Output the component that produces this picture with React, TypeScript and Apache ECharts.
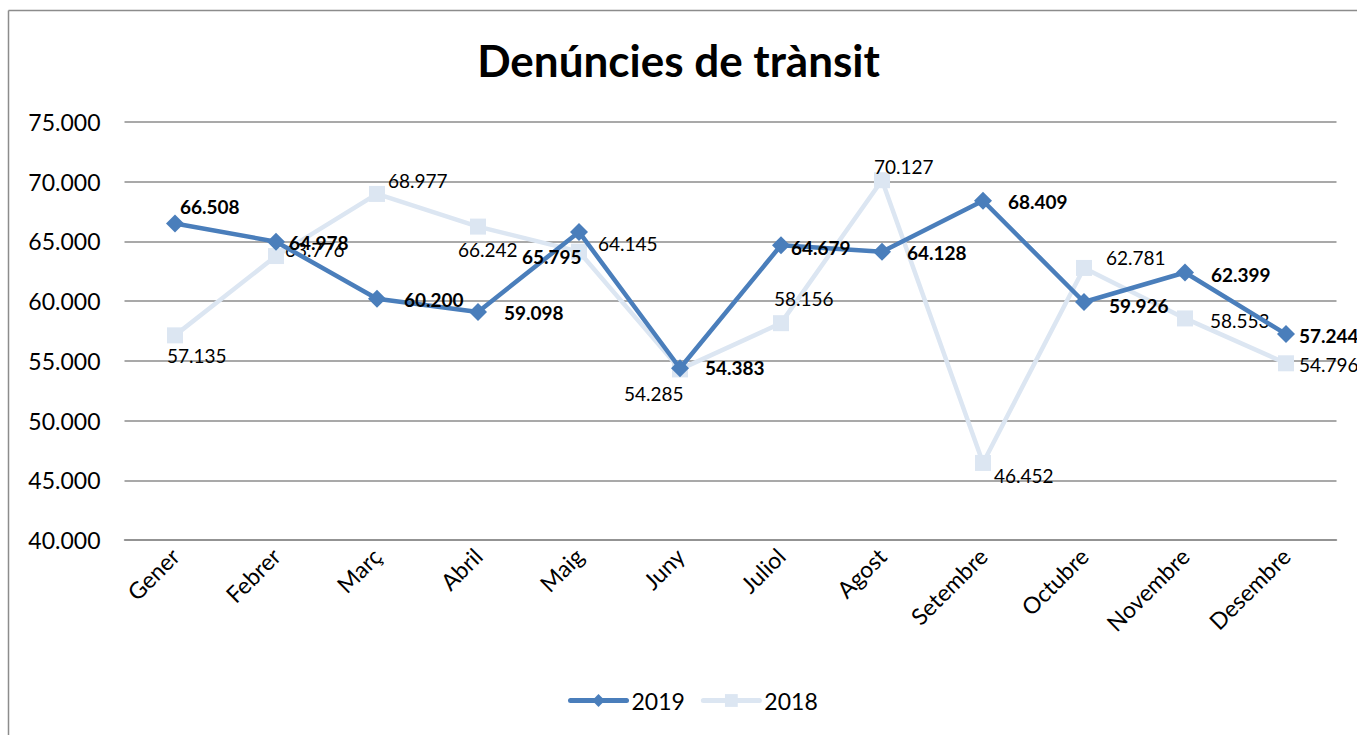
import React, { useEffect, useRef } from "react";
import * as echarts from "echarts";

const months = ["Gener", "Febrer", "Març", "Abril", "Maig", "Juny", "Juliol", "Agost", "Setembre", "Octubre", "Novembre", "Desembre"];
const values2019 = [66508, 64978, 60200, 59098, 65795, 54383, 64679, 64128, 68409, 59926, 62399, 57244];
const values2018 = [57135, 63776, 68977, 66242, 64145, 54285, 58156, 70127, 46452, 62781, 58553, 54796];
const yTicks = { min: 40000, max: 75000, interval: 5000 };

// label placement tweaks (style only)
const off2019 = [[-8, -17], [0, 1], [14, 1], [13, 1], [-70, 25], [12, -1], [-3, 2], [12, 1], [12, 1], [12, 3], [13, 2], [0, 1]];
const off2018 = [[-21, 20], [-4, -7], [-2, -13], [-33, 23], [6, -8], [-69, 24], [-20, -25], [-21, -14], [-2, 13], [9, -10], [12, 2], [0, 1]];

const fmt = (v: number) => (v / 1000).toFixed(3);
const FONT = "Lato, 'Open Sans', sans-serif";

export default function App() {
  const ref = useRef<HTMLDivElement>(null);
  useEffect(() => {
    const chart = echarts.init(ref.current!, undefined, { renderer: "svg" });
    chart.setOption({
      animation: false,
      textStyle: { fontFamily: FONT },
      title: {
        text: "Denúncies de trànsit",
        left: "center",
        top: 33,
        textStyle: { fontSize: 44, fontWeight: "bold", color: "#000", fontFamily: FONT },
      },
      graphic: [
        { type: "line", shape: { x1: 8.5, y1: 10.5, x2: 1357, y2: 10.5 }, style: { stroke: "#8c8c8c", lineWidth: 1.5 } },
        { type: "line", shape: { x1: 8.5, y1: 10.5, x2: 8.5, y2: 735 }, style: { stroke: "#8c8c8c", lineWidth: 1.5 } },
      ],
      legend: {
        bottom: 18,
        left: 563,
        itemWidth: 56,
        itemHeight: 16,
        itemGap: 16,
        lineStyle: { width: 5, cap: "round" },
        textStyle: { fontSize: 23, color: "#000", fontFamily: FONT },
        data: ["2019", "2018"],
      },
      grid: { left: 124.5, right: 20.5, top: 122, bottom: 195, containLabel: false },
      xAxis: {
        type: "category",
        data: months,
        boundaryGap: true,
        axisLine: { lineStyle: { color: "#8c8c8c", width: 1.5 } },
        axisTick: { show: false },
        axisLabel: { rotate: 45, fontSize: 23, color: "#000", margin: 12, interval: 0, fontFamily: FONT },
      },
      yAxis: {
        type: "value",
        min: yTicks.min,
        max: yTicks.max,
        interval: yTicks.interval,
        axisLine: { show: false },
        axisTick: { show: false },
        splitLine: { lineStyle: { color: "#8c8c8c", width: 1.5 } },
        axisLabel: { fontSize: 23, color: "#000", margin: 24, formatter: fmt, fontFamily: FONT },
      },
      series: [
        {
          name: "2018",
          type: "line",
          z: 2,
          symbol: "rect",
          symbolSize: 16,
          lineStyle: { color: "#dce6f2", width: 4.5 },
          itemStyle: { color: "#dce6f2" },
          data: values2018.map((v, i) => ({
            value: v,
            label: { offset: off2018[i] },
          })),
          label: {
            show: true,
            position: "right",
            distance: 5,
            fontSize: 19,
            color: "#000",
            fontFamily: FONT,
            formatter: (p: any) => fmt(p.value),
          },
        },
        {
          name: "2019",
          type: "line",
          z: 3,
          symbol: "diamond",
          symbolSize: 18,
          lineStyle: { color: "#4a7ebb", width: 4.5 },
          itemStyle: { color: "#4a7ebb" },
          data: values2019.map((v, i) => ({
            value: v,
            label: { offset: off2019[i] },
          })),
          label: {
            show: true,
            position: "right",
            distance: 4,
            fontSize: 19,
            fontWeight: "bold",
            color: "#000",
            fontFamily: FONT,
            formatter: (p: any) => fmt(p.value),
          },
        },
      ],
    });
    return () => chart.dispose();
  }, []);
  return (
    <div
      ref={ref}
      style={{ position: "absolute", left: 0, top: 0, width: 1357, height: 735, background: "#fff" }}
    />
  );
}
